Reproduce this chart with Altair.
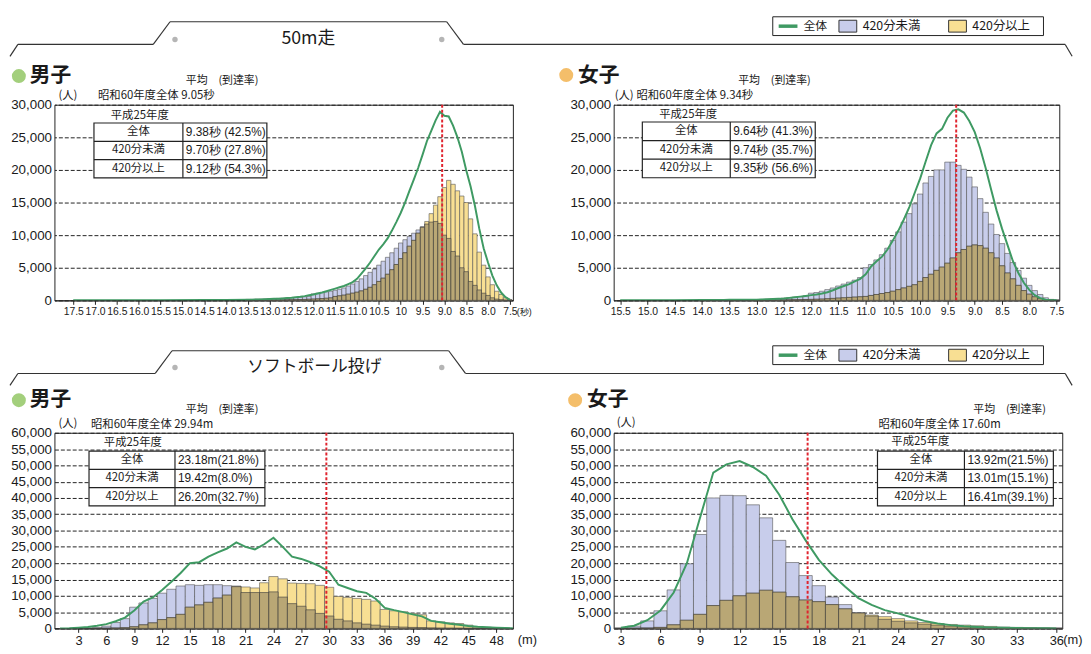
import altair as alt
import pandas as pd

# ---------------- data : 50m走 男子 (bins of 0.1 s) ----------------
run_m_t = [13.5, 13.4, 13.3, 13.2, 13.1, 13.0, 12.9, 12.8, 12.7, 12.6,
           12.5, 12.4, 12.3, 12.2, 12.1, 12.0, 11.9, 11.8, 11.7, 11.6,
           11.5, 11.4, 11.3, 11.2, 11.1, 11.0, 10.9, 10.8, 10.7, 10.6,
           10.5, 10.4, 10.3, 10.2, 10.1, 10.0, 9.9, 9.8, 9.7, 9.6,
           9.5, 9.4, 9.3, 9.2, 9.1, 9.0, 8.9, 8.8, 8.7, 8.6,
           8.5, 8.4, 8.3, 8.2, 8.1, 8.0, 7.9, 7.8, 7.7, 7.6, 7.5]
run_m_under = [150, 160, 180, 200, 220, 250, 280, 300, 330, 360,
               400, 450, 500, 550, 620, 1000, 1100, 1200, 1300, 1400,
               1550, 1700, 1900, 2200, 2500, 2900, 3300, 3800, 4300, 4800,
               5400, 6000, 6600, 7300, 8000, 8800, 9300, 9800, 10300, 10800,
               11300, 11700, 12000, 12100, 11800, 10000, 9500, 7500, 6800, 5000,
               4400, 2900, 2300, 1600, 1100, 750, 400, 200, 100, 50, 20]
run_m_over = [20, 25, 30, 35, 40, 50, 55, 60, 70, 80,
              90, 100, 120, 140, 170, 200, 230, 270, 320, 380,
              600, 700, 800, 950, 1100, 1250, 1450, 1700, 2000, 2400,
              2900, 3400, 4000, 4700, 5500, 6400, 7300, 8300, 9200, 10300,
              11200, 12100, 13300, 14600, 15900, 17300, 18400, 17800, 16800, 16000,
              15000, 12500, 10200, 7400, 5400, 3600, 2400, 1400, 900, 400, 100]
run_m_s60_t = [17.5, 16.5, 15.5, 14.5, 14.0,
               13.5, 13.4, 13.3, 13.2, 13.1, 13.0, 12.9, 12.8, 12.7, 12.6,
               12.5, 12.4, 12.3, 12.2, 12.1, 12.0, 11.9, 11.8, 11.7, 11.6,
               11.5, 11.4, 11.3, 11.2, 11.1, 11.0, 10.9, 10.8, 10.7, 10.6,
               10.5, 10.4, 10.3, 10.2, 10.1, 10.0, 9.9, 9.8, 9.7, 9.6,
               9.5, 9.4, 9.3, 9.2, 9.1, 9.0, 8.9, 8.8, 8.7, 8.6,
               8.5, 8.4, 8.3, 8.2, 8.1, 8.0, 7.9, 7.8, 7.7, 7.6, 7.5]
run_m_s60 = [0, 10, 20, 40, 60,
             100, 110, 130, 150, 170, 200, 230, 260, 300, 350,
             400, 470, 550, 650, 770, 900, 1050, 1200, 1400, 1600,
             1800, 2000, 2200, 2500, 2800, 3300, 4100, 4900, 5800, 6800,
             7800, 8600, 9500, 10700, 12000, 13400, 15000, 16800, 18500, 20300,
             22300, 24400, 26000, 27600, 28900, 28300, 28200, 26800, 25000, 22800,
             20000, 17500, 14500, 11000, 8000, 5800, 3800, 2300, 1200, 500, 100]

# ---------------- data : 50m走 女子 ----------------
run_f_t = [14.0, 13.9, 13.8, 13.7, 13.6, 13.5, 13.4, 13.3, 13.2, 13.1,
           13.0, 12.9, 12.8, 12.7, 12.6, 12.5, 12.4, 12.3, 12.2, 12.1,
           12.0, 11.9, 11.8, 11.7, 11.6, 11.5, 11.4, 11.3, 11.2, 11.1,
           11.0, 10.9, 10.8, 10.7, 10.6, 10.5, 10.4, 10.3, 10.2, 10.1,
           10.0, 9.9, 9.8, 9.7, 9.6, 9.5, 9.4, 9.3, 9.2, 9.1,
           9.0, 8.9, 8.8, 8.7, 8.6, 8.5, 8.4, 8.3, 8.2, 8.1,
           8.0, 7.9, 7.8, 7.7, 7.6, 7.5]
run_f_under = [30, 35, 40, 45, 50, 60, 70, 80, 90, 100,
               120, 150, 180, 220, 270, 330, 400, 480, 580, 700,
               1100, 1200, 1400, 1650, 1900, 2200, 2500, 2800, 3100, 3500,
               5000, 5500, 6200, 7000, 8000, 9200, 10500, 12000, 13300, 14800,
               16300, 18000, 19000, 20000, 20000, 21200, 21200, 20700, 20100, 18900,
               17400, 15600, 13500, 11700, 10100, 8700, 7200, 5800, 4600, 3400,
               2300, 1500, 900, 400, 150, 50]
run_f_over = [10, 10, 12, 14, 16, 18, 20, 22, 25, 28,
              30, 35, 40, 45, 55, 65, 75, 90, 110, 130,
              150, 170, 200, 250, 300, 350, 400, 450, 500, 550,
              600, 750, 900, 1050, 1200, 1400, 1650, 1900, 2150, 2400,
              2900, 3500, 4000, 4600, 5100, 5700, 6500, 7300, 7800, 8300,
              8500, 8400, 8000, 7300, 6500, 5300, 4200, 3300, 2300, 1500,
              950, 550, 300, 120, 50, 10]
run_f_s60_t = [15.5, 15.0, 14.5,
               14.0, 13.9, 13.8, 13.7, 13.6, 13.5, 13.4, 13.3, 13.2, 13.1,
               13.0, 12.9, 12.8, 12.7, 12.6, 12.5, 12.4, 12.3, 12.2, 12.1,
               12.0, 11.9, 11.8, 11.7, 11.6, 11.5, 11.4, 11.3, 11.2, 11.1,
               11.0, 10.9, 10.8, 10.7, 10.6, 10.5, 10.4, 10.3, 10.2, 10.1,
               10.0, 9.9, 9.8, 9.7, 9.6, 9.5, 9.4, 9.3, 9.2, 9.1,
               9.0, 8.9, 8.8, 8.7, 8.6, 8.5, 8.4, 8.3, 8.2, 8.1,
               8.0, 7.9, 7.8, 7.7, 7.6, 7.5]
run_f_s60 = [0, 10, 30,
             50, 55, 60, 65, 70, 80, 85, 90, 95, 100,
             110, 130, 160, 200, 250, 300, 380, 470, 570, 680,
             800, 900, 1050, 1250, 1550, 1900, 2200, 2500, 2900, 3300,
             4000, 5200, 6000, 6700, 7800, 9200, 10700, 12400, 14300, 16500,
             18700, 21300, 23800, 25600, 26300, 28000, 29100, 29300, 28800, 27500,
             25800, 23300, 20300, 17000, 13800, 11000, 8500, 6000, 4200, 2700,
             1600, 800, 350, 100, 20, 0]

# ---------------- data : ソフトボール投げ 男子 (bins of 1 m) ----------------
ball_m_d = [4, 5, 6, 7, 8, 9, 10, 11, 12, 13, 14, 15, 16, 17, 18, 19, 20, 21, 22, 23,
            24, 25, 26, 27, 28, 29, 30, 31, 32, 33, 34, 35, 36, 37, 38, 39, 40, 41, 42, 43,
            44, 45, 46, 47, 48, 49]
ball_m_under = [50, 200, 700, 1800, 3000, 6500, 7800, 9200, 10800, 12000, 13000, 13400, 13200, 13400, 13400, 13100, 13000, 11000, 11000, 11000,
                11200, 9600, 7600, 6800, 5700, 4600, 3800, 2800, 2300, 1700, 1300, 1000, 700, 500, 400, 300, 250, 150, 100, 80,
                60, 40, 30, 20, 10, 5]
ball_m_over = [0, 20, 50, 100, 200, 500, 1100, 1700, 2700, 3300, 4300, 6500, 7200, 8000, 9300, 10200, 12800, 12700, 12400, 14000,
               15900, 15200, 13900, 13800, 13700, 13200, 12600, 9800, 9500, 9200, 8900, 8400, 5800, 5400, 5100, 4600, 4200, 2300, 2000, 1700,
               1500, 1000, 500, 350, 200, 80]
ball_m_s60_d = [1, 2, 3, 4, 5, 6, 7, 8, 9, 10, 11, 12, 13, 14, 15, 16, 17, 18, 19, 20, 21, 22, 23, 24, 25,
                26, 27, 28, 29, 30, 31, 32, 33, 34, 35, 36, 37, 38, 39, 40, 41, 42, 43, 44, 45, 46, 47, 48, 49, 50]
ball_m_s60 = [0, 50, 200, 400, 800, 1300, 2200, 3300, 5500, 8200, 9500, 11800, 14300, 17000, 20000, 20300, 22000, 23300, 24500, 26400,
              25000, 24200, 25800, 27800, 25000, 22000, 21300, 20300, 19000, 17400, 13400, 12400, 11400, 10900, 9100, 6300, 5600, 5000,
              4300, 3700, 2300, 1900, 1400, 1100, 750, 500, 350, 200, 100, 0]

# ---------------- data : ソフトボール投げ 女子 ----------------
ball_f_d = [3, 4, 5, 6, 7, 8, 9, 10, 11, 12, 13, 14, 15, 16, 17, 18, 19, 20, 21, 22,
            23, 24, 25, 26, 27, 28, 29, 30, 31, 32, 33, 34, 35, 36]
ball_f_under = [100, 700, 2300, 5400, 11800, 19800, 28800, 40000, 40800, 40700, 37900, 33900, 27000, 20200, 16200, 13100, 9600, 7300, 4800, 3800,
                2800, 2200, 1700, 1300, 1000, 700, 500, 350, 250, 150, 100, 60, 40, 20]
ball_f_over = [0, 50, 100, 300, 1100, 2500, 4300, 7000, 8600, 10000, 10800, 11700, 11100, 9700, 8700, 8200, 7300, 6000, 4700, 4100,
               3600, 3000, 2300, 1800, 1500, 1200, 1000, 800, 600, 400, 300, 200, 100, 50]
ball_f_s60 = [200, 800, 2500, 5500, 11000, 20000, 34000, 47800, 50300, 51300, 49500, 46800, 41000, 33500, 27000, 21000, 16500, 12800, 9300, 7200,
              5600, 4600, 3400, 2300, 1500, 1000, 650, 450, 300, 180, 100, 50, 20, 0]

# 昭和60年度全体の平均 (red dashed line)
ref_means = [9.05, 9.34, 29.7, 17.15]

row_labels = ["全体", "420分未満", "420分以上"]
tab_run_m = ["9.38秒 (42.5%)", "9.70秒 (27.8%)", "9.12秒 (54.3%)"]
tab_run_f = ["9.64秒 (41.3%)", "9.74秒 (35.7%)", "9.35秒 (56.6%)"]
tab_ball_m = ["23.18m(21.8%)", "19.42m(8.0%)", "26.20m(32.7%)"]
tab_ball_f = ["13.92m(21.5%)", "13.01m(15.1%)", "16.41m(39.1%)"]

# ---------------- styles ----------------
JP = "Noto Sans CJK JP"
NUM = "Liberation Sans"
NARROW = "Liberation Sans Narrow, Liberation Sans, sans-serif"
BLUE = "#c8cdeb"
YELLOW = "#f8df93"
OLIVE = "#b9a775"
EDGE = "#555555"
GREEN = "#3f9a63"
RED = "#e0242e"
INK = "#1a1a1a"

ONE = pd.DataFrame({"k": [0]})


def T(o, sx, sy, s, size=11, align="left", font=JP, weight="normal", color=INK):
    return alt.Chart(ONE).mark_text(text=s, fontSize=size, align=align, baseline="middle",
                                    font=font, fontWeight=weight, color=color).encode(
        x=alt.value(sx - o[0]), y=alt.value(sy - o[1]))


def R(o, x1, y1, x2, y2, color="#333333", width=1.2):
    return alt.Chart(ONE).mark_rule(color=color, strokeWidth=width).encode(
        x=alt.value(x1 - o[0]), y=alt.value(y1 - o[1]), x2=alt.value(x2 - o[0]), y2=alt.value(y2 - o[1]))


def B(o, x1, y1, x2, y2, fill, stroke="#222222", sw=1.0):
    return alt.Chart(ONE).mark_rect(fill=fill, stroke=stroke, strokeWidth=sw).encode(
        x=alt.value(x1 - o[0]), y=alt.value(y1 - o[1]), x2=alt.value(x2 - o[0]), y2=alt.value(y2 - o[1]))


def D(o, sx, sy, size, color):
    return alt.Chart(ONE).mark_circle(size=size, color=color, opacity=1).encode(
        x=alt.value(sx - o[0]), y=alt.value(sy - o[1]))


def table(o, left, mid, right, top, rowh, hx, hy, values):
    parts = [T(o, hx, hy, "平成25年度", 11.5),
             B(o, left, top, right, top + 3 * rowh, "white", "#222222", 1.2),
             R(o, mid, top, mid, top + 3 * rowh, "#222222", 1.2),
             R(o, left, top + rowh, right, top + rowh, "#222222", 1.2),
             R(o, left, top + 2 * rowh, right, top + 2 * rowh, "#222222", 1.2)]
    for i in range(3):
        cy = top + rowh * (i + 0.5)
        parts.append(T(o, (left + mid) / 2, cy, row_labels[i], 11.5, "center"))
        parts.append(T(o, mid + 3, cy, values[i], 12, "left", NUM))
    return parts


def legend(o, y0):
    cy = y0 + 9.5
    return [B(o, 780, y0, 1054, y0 + 19, "white", "#222222", 1),
            R(o, 786, cy, 805, cy, GREEN, 3.5),
            T(o, 811, cy, "全体", 12),
            B(o, 847, cy - 6, 865, cy + 6, BLUE, "#333333", 1),
            T(o, 871, cy, "420分未満", 12.5),
            B(o, 958, cy - 6, 976, cy + 6, YELLOW, "#333333", 1),
            T(o, 982, cy, "420分以上", 12.5)]


def panel(o, w, h, centers, under, over, half, lx, ly, ref, xdom, rev, ymax,
          xvals, lab_expr, xsize, xfont, decos):
    xs = alt.Scale(domain=xdom, reverse=rev, nice=False, zero=False)
    ys = alt.Scale(domain=[0, ymax], nice=False)
    xax = alt.Axis(values=xvals, labelExpr=lab_expr, labelFontSize=xsize, labelFont=xfont,
                   title=None, grid=False, ticks=True, tickSize=4, domain=True,
                   labelFlush=False, labelOverlap=False, labelPadding=2)
    yax = alt.Axis(values=list(range(0, ymax + 1, 5000)), format=",d", title=None, grid=True,
                   gridDash=[4, 2], gridColor="#222222", gridWidth=1, ticks=False, domain=False,
                   labelFontSize=13.5, labelFont=NUM, labelPadding=3, labelOverlap=False, labelFlush=False)
    df = pd.DataFrame({"c": centers, "u": under, "o": over})
    base = alt.Chart(df).transform_calculate(
        lo=f"datum.c - {half}", hi=f"datum.c + {half}", mn="min(datum.u, datum.o)")
    X = alt.X("lo:Q", scale=xs, axis=xax)
    blue = base.mark_rect(fill=BLUE, stroke=EDGE, strokeWidth=0.6).encode(
        x=X, x2="hi:Q", y=alt.Y("u:Q", scale=ys, axis=yax), y2=alt.datum(0))
    yel = base.mark_rect(fill=YELLOW, stroke=EDGE, strokeWidth=0.6).encode(
        x=X, x2="hi:Q", y=alt.Y("o:Q", scale=ys, axis=yax), y2=alt.datum(0))
    oli = base.mark_rect(fill=OLIVE, stroke="#3a3a3a", strokeWidth=0.6).encode(
        x=X, x2="hi:Q", y=alt.Y("mn:Q", scale=ys, axis=yax), y2=alt.datum(0))
    line = alt.Chart(pd.DataFrame({"x": lx, "y": ly})).mark_line(
        color=GREEN, strokeWidth=2, clip=True).encode(
        x=alt.X("x:Q", scale=xs, axis=xax), y=alt.Y("y:Q", scale=ys, axis=yax))
    red = alt.Chart(pd.DataFrame({"v": [ref]})).mark_rule(
        color=RED, strokeDash=[3, 2], strokeWidth=2).encode(x=alt.X("v:Q", scale=xs, axis=xax))
    return alt.layer(blue, yel, oli, line, red, *decos).properties(
        width=w, height=h, view=alt.ViewBackground(stroke="#222222", strokeWidth=1, strokeOpacity=1))


# ---------------- panel 1 : 50m 男子 ----------------
o1 = (53, 101)
d1 = [R(o1, 8, 8, 60, 8, "white", 1),
      R(o1, 8, 52, 16, 40), R(o1, 16, 40, 153, 40), R(o1, 153, 40, 170, 17),
      R(o1, 170, 17, 450, 17), R(o1, 450, 17, 467, 40), R(o1, 467, 40, 1076, 40),
      R(o1, 1076, 40, 1083, 52),
      D(o1, 175, 35, 30, "#b5b5b5"), D(o1, 445, 35, 30, "#b5b5b5"),
      T(o1, 310, 35, "50m走", 18, "center"),
      *legend(o1, 12),
      D(o1, 17, 72, 200, "#a3cf7c"), T(o1, 28, 72, "男子", 21, weight="bold"),
      T(o1, 186, 77, "平均　(到達率)", 11),
      T(o1, 57, 92, "(人)", 11.5), T(o1, 97, 92, "昭和60年度全体  9.05秒", 11.5),
      *table(o1, 93, 183, 268, 119.5, 18.5, 110, 112, tab_run_m),
      T(o1, 521, 311, "(秒)", 9, font=NUM)]
p1 = panel(o1, 464, 198, run_m_t, run_m_under, run_m_over, 0.05, run_m_s60_t, run_m_s60,
           ref_means[0], [7.43, 17.93], True, 30000,
           [17.5, 17.0, 16.5, 16.0, 15.5, 15.0, 14.5, 14.0, 13.5, 13.0, 12.5, 12.0, 11.5, 11.0,
            10.5, 10.0, 9.5, 9.0, 8.5, 8.0, 7.5],
           "datum.value == 10 ? '10' : format(datum.value, '.1f')", 10.5, NARROW, d1)

# ---------------- panel 2 : 50m 女子 ----------------
o2 = (619, 101)
d2 = [D(o2, 571, 71, 200, "#f4be6a"), T(o2, 583, 72, "女子", 21, weight="bold"),
      T(o2, 745, 77, "平均　(到達率)", 11),
      T(o2, 620, 92, "(人)", 11.5), T(o2, 642, 92, "昭和60年度全体  9.34秒", 11.5),
      *table(o2, 648, 737, 823, 118.5, 18.8, 665, 111, tab_run_f)]
p2 = panel(o2, 451, 198, run_f_t, run_f_under, run_f_over, 0.05, run_f_s60_t, run_f_s60,
           ref_means[1], [7.45, 15.62], True, 30000,
           [15.5, 15.0, 14.5, 14.0, 13.5, 13.0, 12.5, 12.0, 11.5, 11.0, 10.5, 10.0, 9.5, 9.0,
            8.5, 8.0, 7.5],
           "format(datum.value, '.1f')", 10.5, NARROW, d2)

# ---------------- panel 3 : ソフトボール 男子 ----------------
o3 = (53, 433)
d3 = [R(o3, 8, 385, 16, 373), R(o3, 16, 373, 155, 373), R(o3, 155, 373, 172, 350),
      R(o3, 172, 350, 452, 350), R(o3, 452, 350, 469, 373), R(o3, 469, 373, 1076, 373),
      R(o3, 1076, 373, 1083, 385),
      D(o3, 175, 367, 30, "#b5b5b5"), D(o3, 445, 367, 30, "#b5b5b5"),
      T(o3, 316, 367, "ソフトボール投げ", 17, "center"),
      *legend(o3, 345),
      D(o3, 17, 400, 200, "#a3cf7c"), T(o3, 28, 400, "男子", 21, weight="bold"),
      T(o3, 186, 410, "平均　(到達率)", 11),
      T(o3, 57, 424, "(人)", 11.5), T(o3, 90, 425, "昭和60年度全体  29.94m", 11.5),
      *table(o3, 88, 175, 266, 451.5, 18.5, 103, 443, tab_ball_m),
      T(o3, 522, 643, "(m)", 13, font=NUM)]
p3 = panel(o3, 464, 198, ball_m_d, ball_m_under, ball_m_over, 0.5, ball_m_s60_d, ball_m_s60,
           ref_means[2], [0.4, 49.8], False, 60000,
           [3, 6, 9, 12, 15, 18, 21, 24, 27, 30, 33, 36, 39, 42, 45, 48],
           "format(datum.value, 'd')", 13, NUM, d3)

# ---------------- panel 4 : ソフトボール 女子 ----------------
o4 = (609, 433)
d4 = [D(o4, 570, 400, 200, "#f4be6a"), T(o4, 582, 400, "女子", 21, weight="bold"),
      T(o4, 973, 410, "平均　(到達率)", 11),
      T(o4, 612, 423, "(人)", 11.5), T(o4, 877, 425, "昭和60年度全体  17.60m", 11.5),
      *table(o4, 876, 964, 1054, 451.5, 18.5, 890, 442, tab_ball_f),
      T(o4, 1064, 643, "(m)", 13, font=NUM)]
p4 = panel(o4, 454, 198, ball_f_d, ball_f_under, ball_f_over, 0.5, ball_f_d, ball_f_s60,
           ref_means[3], [2.45, 36.45], False, 60000,
           [3, 6, 9, 12, 15, 18, 21, 24, 27, 30, 33, 36],
           "format(datum.value, 'd')", 13, NUM, d4)


def spacer(w):
    return alt.Chart(ONE).mark_text(text="").encode(
        x=alt.value(0), y=alt.value(0)).properties(width=w, height=1)


chart = alt.concat(p1, spacer(102), p2, p3, spacer(92), p4, columns=3,
                   spacing={"row": 134, "column": 0}, bounds="flush", align="none",
                   padding=0, background="white").configure_view(
    strokeOpacity=0).configure_axis(labelColor=INK, domainColor="#222222", tickColor="#222222")

chart.save("out.html", embed_options={"renderer": "svg", "actions": False})
